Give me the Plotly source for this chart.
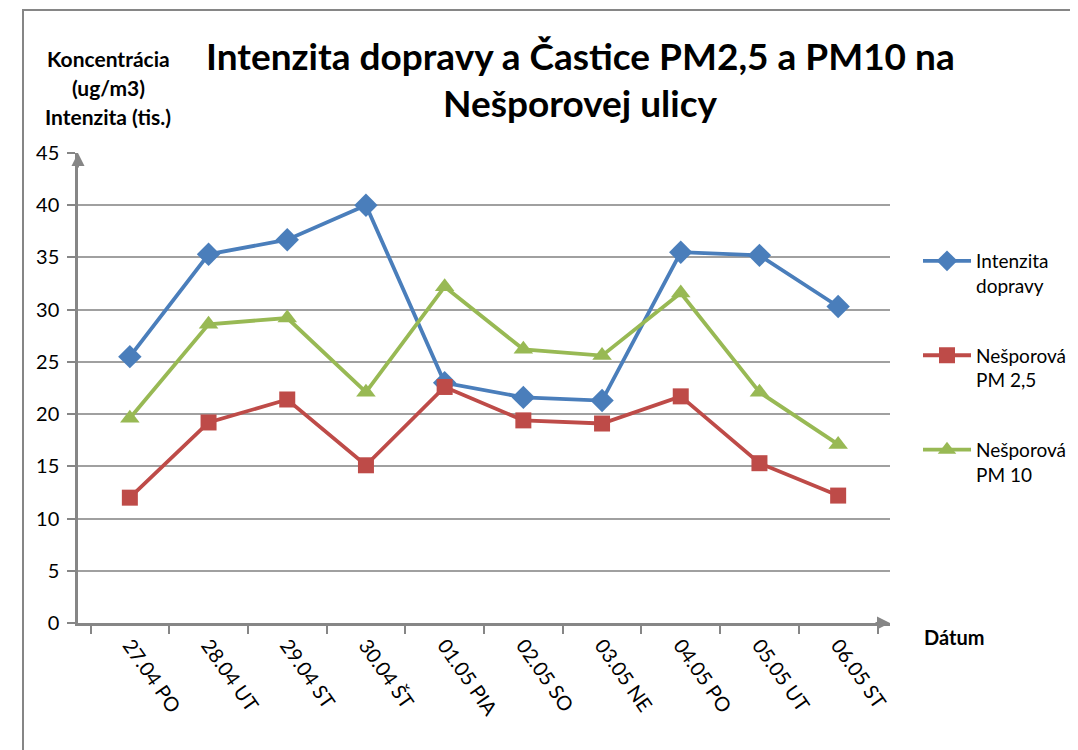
import plotly.graph_objects as go

# data
datum = ["27.04 PO", "28.04 UT", "29.04 ST", "30.04 ŠT", "01.05 PIA",
         "02.05 SO", "03.05 NE", "04.05 PO", "05.05 UT", "06.05 ST"]
intenzita = [25.5, 35.3, 36.7, 40.0, 23.0, 21.6, 21.3, 35.5, 35.2, 30.3]
pm25 = [12.0, 19.2, 21.4, 15.1, 22.6, 19.4, 19.1, 21.7, 15.3, 12.2]
pm10 = [19.6, 28.6, 29.2, 22.1, 32.2, 26.2, 25.6, 31.6, 22.1, 17.1]

series = [
    ("Intenzita<br>dopravy", intenzita, "#4a7ebb", "diamond", 18),
    ("Nešporová<br>PM 2,5", pm25, "#be4b48", "square", 16),
    ("Nešporová<br>PM 10", pm10, "#98b954", "triangle-up", 17),
]

FONT = "Lato"
GRAY = "#868686"

# the page body has an 8px margin, so the figure is made smaller by that
OFF = 8
W, H = 1078 - OFF, 750 - OFF
# plot area in page pixels
L, R, T, B = 78, 890, 153, 623


def px_x(x):
    return (x - L) / (R - L)


def px_y(y):
    return (B - y) / (B - T)


fig = go.Figure()
for i, (name, vals, col, sym, sz) in enumerate(series):
    fig.add_trace(go.Scatter(
        x=datum, y=vals, name=name, mode="lines+markers",
        line=dict(color=col, width=3.8),
        marker=dict(symbol=sym, size=sz, color=col),
        legendgroup=str(i),
    ))

annotations = []
# title, two lines
for txt, y in [("Intenzita dopravy a Častice PM2,5 a PM10 na", 55),
               ("Nešporovej ulicy", 103)]:
    annotations.append(dict(text=txt, x=px_x(580), y=px_y(y), xref="paper", yref="paper",
                            showarrow=False, xanchor="center", yanchor="middle",
                            font=dict(family=FONT, size=37, color="black", weight="bold")))
# y axis title
for txt, y in [("Koncentrácia", 58), ("(ug/m3)", 88), ("Intenzita (tis.)", 117)]:
    annotations.append(dict(text=txt, x=px_x(108), y=px_y(y), xref="paper", yref="paper",
                            showarrow=False, xanchor="center", yanchor="middle",
                            font=dict(family=FONT, size=21, color="black", weight="bold")))
# x axis title
annotations.append(dict(text="Dátum", x=px_x(922), y=px_y(637), xref="paper", yref="paper",
                        showarrow=False, xanchor="left", yanchor="middle",
                        font=dict(family=FONT, size=20, color="black", weight="bold")))
# axis arrows
annotations.append(dict(text="", x=0, y=45, xref="paper", yref="y", ax=0, ay=16,
                        showarrow=True, arrowhead=2, arrowsize=1.3, arrowwidth=2,
                        arrowcolor=GRAY, standoff=0))
annotations.append(dict(text="", x=1, y=0, xref="paper", yref="y", ax=-16, ay=0,
                        showarrow=True, arrowhead=2, arrowsize=1.3, arrowwidth=2,
                        arrowcolor=GRAY, standoff=0))

fig.update_layout(
    width=W, height=H, autosize=False,
    margin=dict(l=L - OFF, r=1078 - R, t=T - OFF, b=750 - B, autoexpand=False),
    paper_bgcolor="white", plot_bgcolor="white",
    font=dict(family=FONT, size=18, color="black"),
    annotations=annotations,
    showlegend=True,
    legend=dict(x=px_x(918), y=px_y(242), xanchor="left", yanchor="top",
                traceorder="grouped", tracegroupgap=42, valign="top",
                itemwidth=48, font=dict(family=FONT, size=19, color="black"),
                bgcolor="rgba(0,0,0,0)"),
    shapes=[dict(type="rect", xref="paper", yref="paper",
                 x0=px_x(23), x1=px_x(1072), y0=px_y(790), y1=px_y(10),
                 line=dict(color=GRAY, width=2), layer="below")],
)

fig.update_xaxes(
    type="category", tickangle=55, tickson="boundaries",
    ticks="outside", ticklen=8, tickwidth=1.5, tickcolor=GRAY,
    showline=True, linecolor=GRAY, linewidth=2.5, showgrid=False,
    tickfont=dict(family=FONT, size=20, color="black"), automargin=False,
)
fig.update_yaxes(
    range=[0, 45], dtick=5, ticks="outside", ticklen=8, tickwidth=1.5, tickcolor=GRAY,
    showline=True, linecolor=GRAY, linewidth=2.5,
    showgrid=True, gridcolor="#a0a0a0", gridwidth=1.5, zeroline=False,
    tickfont=dict(family=FONT, size=20, color="black"), ticklabelstandoff=4,
    automargin=False,
)

fig.write_html("out.html")
